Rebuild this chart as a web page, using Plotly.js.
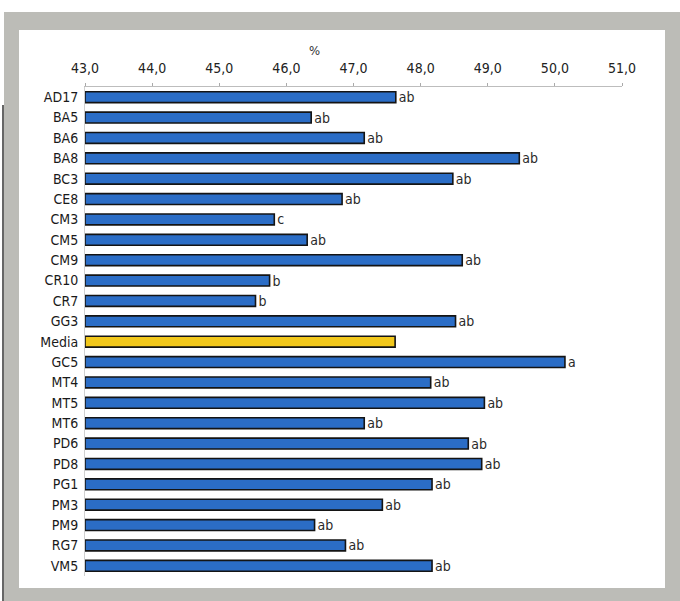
<!DOCTYPE html>
<html>
<head>
<meta charset="utf-8">
<script src="https://cdn.plot.ly/plotly-3.0.1.min.js"></script>
<style>
  html, body { margin: 0; padding: 0; background: #ffffff; }
  #chart { width: 680px; height: 601px; }
</style>
</head>
<body>
<div id="chart"></div>
<script>
const categories = ["AD17","BA5","BA6","BA8","BC3","CE8","CM3","CM5","CM9","CR10","CR7","GG3","Media","GC5","MT4","MT5","MT6","PD6","PD8","PG1","PM3","PM9","RG7","VM5"];
const values = [47.63,46.37,47.16,49.47,48.48,46.83,45.82,46.31,48.62,45.75,45.54,48.52,47.62,50.15,48.15,48.95,47.16,48.71,48.91,48.17,47.43,46.42,46.88,48.17];
const letters = ["ab","ab","ab","ab","ab","ab","c","ab","ab","b","b","ab","","a","ab","ab","ab","ab","ab","ab","ab","ab","ab","ab"];
const tickVals = [43,44,45,46,47,48,49,50,51];
const tickLabels = ["43,0","44,0","45,0","46,0","47,0","48,0","49,0","50,0","51,0"];
const axisMin = 43;

const blue = "#2b6dc6";
const yellow = "#f2c81c";
const colors = categories.map(c => c === "Media" ? yellow : blue);

// pixel -> paper helpers (plot area: x 85..622, y 87..576)
const L = 85, R = 58, T = 87, B = 25, W = 680, H = 601;
const pw = W - L - R, ph = H - T - B;
const px = v => (v - L) / pw;
const py = v => (H - B - v) / ph;

const font = "'DejaVu Sans Condensed', 'Liberation Sans Narrow', 'Arial Narrow', 'Liberation Sans', Arial, sans-serif";

const trace = {
  type: "bar",
  orientation: "h",
  y: categories,
  x: values.map(v => v - axisMin),
  base: axisMin,
  width: 0.53,
  marker: { color: colors, line: { color: "#141414", width: 1.6 } },
  text: letters,
  textposition: "outside",
  constraintext: "none",
  textangle: 0,
  cliponaxis: false,
  textfont: { family: font, size: 14, color: "#2a2a2a" },
  hoverinfo: "skip"
};

const layout = {
  width: W, height: H,
  margin: { l: L, r: R, t: T, b: B, pad: 0 },
  paper_bgcolor: "#ffffff",
  plot_bgcolor: "rgba(0,0,0,0)",
  showlegend: false,
  font: { family: font, size: 13, color: "#222" },
  xaxis: {
    side: "top",
    range: [43, 51],
    tickvals: tickVals,
    ticktext: tickLabels,
    showgrid: false,
    zeroline: false,
    showline: true,
    linecolor: "#bdbdbd",
    linewidth: 1,
    ticks: "outside",
    ticklen: 3,
    tickcolor: "#aaaaaa",
    ticklabelstandoff: 4,
    tickfont: { family: font, size: 14, color: "#222" },
    fixedrange: true
  },
  yaxis: {
    type: "category",
    autorange: "reversed",
    showgrid: false,
    zeroline: false,
    showline: true,
    linecolor: "#d0d0d0",
    linewidth: 1,
    ticks: "",
    ticklabelstandoff: 3,
    tickfont: { family: font, size: 14, color: "#1a1a1a" },
    fixedrange: true
  },
  annotations: [
    { text: "%", xref: "paper", yref: "paper", x: px(314), y: py(51), showarrow: false,
      font: { family: font, size: 13, color: "#333" }, xanchor: "center", yanchor: "middle" }
  ],
  shapes: [
    { type: "rect", xref: "paper", yref: "paper", layer: "below",
      x0: px(4), x1: px(680), y0: py(601), y1: py(12),
      fillcolor: "#bcbcb7", line: { width: 0 } },
    { type: "rect", xref: "paper", yref: "paper", layer: "below",
      x0: px(19), x1: px(665), y0: py(588), y1: py(30),
      fillcolor: "#ffffff", line: { width: 0 } },
    { type: "line", xref: "paper", yref: "paper", layer: "below",
      x0: px(3), x1: px(3), y0: py(601), y1: py(105),
      line: { color: "#333", width: 1.5 } }
  ]
};

Plotly.newPlot("chart", [trace], layout, { displayModeBar: false, staticPlot: true });
</script>
</body>
</html>
